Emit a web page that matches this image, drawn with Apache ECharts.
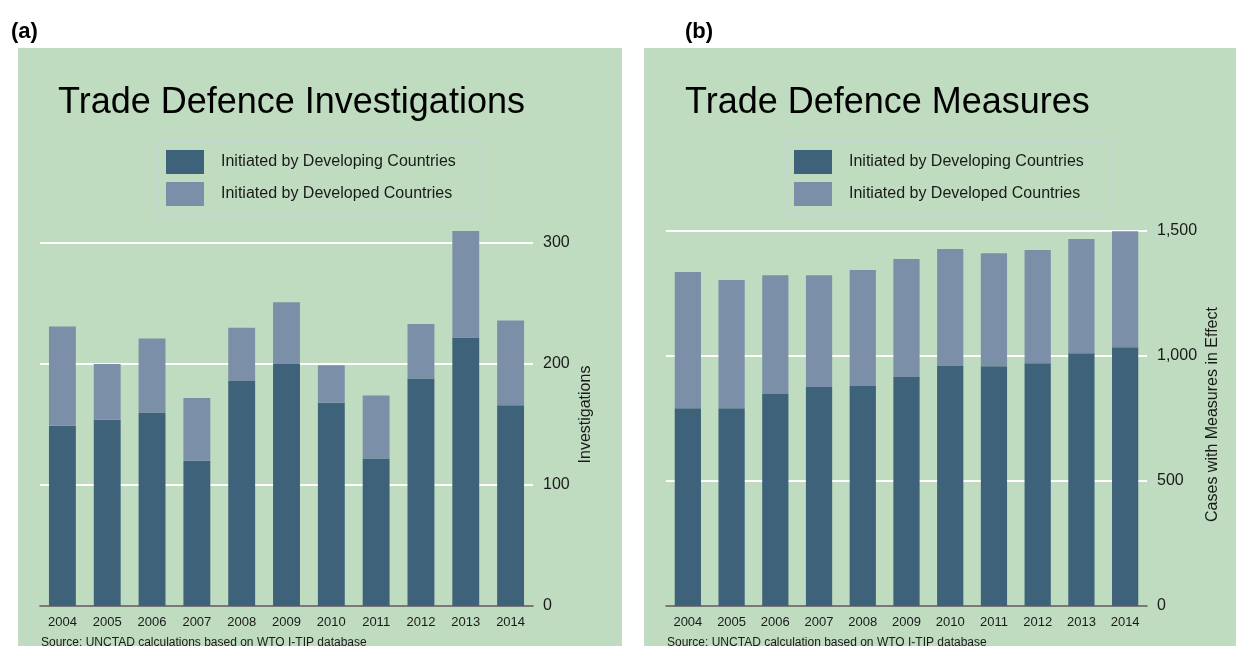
<!DOCTYPE html>
<html>
<head>
<meta charset="utf-8">
<script src="https://cdn.jsdelivr.net/npm/echarts@6/dist/echarts.min.js"></script>
<style>
body { margin: 0; background: #ffffff; }
#wrap { position: relative; width: 1236px; height: 646px; overflow: hidden; }
.panel { position: absolute; top: 48px; height: 598px; background: #bfdcc0; }
#chartDom { position: absolute; left: 0; top: 0; width: 1236px; height: 646px; }
</style>
</head>
<body>
<div id="wrap">
  <div class="panel" style="left:18px;width:604px"></div>
  <div class="panel" style="left:644px;width:592px"></div>
  <div id="chartDom"></div>
</div>
<script>
// years on the x axis (both panels)
const years = ["2004", "2005", "2006", "2007", "2008", "2009", "2010", "2011", "2012", "2013", "2014"];
// (a) investigations
const invDeveloping = [149, 154, 160, 120, 186, 200, 168, 122, 188, 222, 166];
const invDeveloped = [82, 46, 61, 52, 44, 51, 31, 52, 45, 88, 70];
// (b) measures in effect
const measDeveloping = [791, 791, 848, 876, 880, 916, 960, 959, 971, 1011, 1035];
const measDeveloped = [545, 513, 475, 447, 464, 472, 468, 452, 453, 457, 464];

const nameDeveloping = "Initiated by Developing Countries";
const nameDeveloped = "Initiated by Developed Countries";
const font = "'Liberation Sans', Arial, sans-serif";
const darkBar = "#3d6279";
const lightBar = "#7b90a8";

let chart = echarts.init(document.getElementById("chartDom"), null, { renderer: "canvas" });

function legendAt(left) {
  return {
    left: left,
    top: 142,
    orient: "vertical",
    itemWidth: 38,
    itemHeight: 24,
    itemGap: 8,
    padding: [8, 26, 8, 8],
    borderColor: "#c6d3d6",
    borderWidth: 1.5,
    icon: "rect",
    textStyle: { fontFamily: font, fontSize: 16, color: "#1a1a1a", padding: [0, 0, 0, 12] },
    data: [nameDeveloping, nameDeveloped],
  };
}

function yAxisFor(gridIndex, max, interval, name, gap, shift, fmt) {
  return {
    gridIndex: gridIndex,
    type: "value",
    position: "right",
    min: 0,
    max: max,
    interval: interval,
    axisLine: { show: false },
    axisTick: { show: false },
    axisLabel: { fontFamily: font, fontSize: 16, color: "#1a1a1a", margin: 10, formatter: fmt },
    splitLine: { lineStyle: { color: "#ffffff", width: 2 } },
    name: name,
    nameLocation: "middle",
    nameRotate: 90,
    nameGap: gap,
    // padding on the left moves the rotated name upward
    nameTextStyle: { fontFamily: font, fontSize: 16, color: "#1a1a1a", padding: [0, 0, 0, shift] },
  };
}

function xAxisFor(gridIndex) {
  return {
    gridIndex: gridIndex,
    type: "category",
    data: years,
    axisLine: { lineStyle: { color: "#4d4d4d", width: 1.5 } },
    axisTick: { show: false },
    axisLabel: { fontFamily: font, fontSize: 13, color: "#1a1a1a", margin: 10 },
  };
}

function barSeries(name, idx, stack, data, color) {
  return {
    name: name,
    type: "bar",
    stack: stack,
    xAxisIndex: idx,
    yAxisIndex: idx,
    barWidth: "60%",
    clip: false,
    itemStyle: { color: color },
    emphasis: { disabled: true },
    data: data,
  };
}

chart.setOption({
  animation: false,
  textStyle: { fontFamily: font },
  title: [
    { text: "(a)", left: 6, top: 16, textStyle: { fontFamily: font, fontSize: 22, fontWeight: "bold", color: "#000" } },
    { text: "(b)", left: 680, top: 16, textStyle: { fontFamily: font, fontSize: 22, fontWeight: "bold", color: "#000" } },
    { text: "Trade Defence Investigations", left: 53, top: 80, textStyle: { fontFamily: font, fontSize: 36, fontWeight: "normal", color: "#000" } },
    { text: "Trade Defence Measures", left: 680, top: 80, textStyle: { fontFamily: font, fontSize: 36, fontWeight: "normal", color: "#000" } },
    { text: "Source: UNCTAD calculations based on WTO I-TIP database", left: 36, top: 632, textStyle: { fontFamily: font, fontSize: 12, fontWeight: "normal", color: "#1a1a1a" } },
    { text: "Source: UNCTAD calculation based on WTO I-TIP database", left: 662, top: 632, textStyle: { fontFamily: font, fontSize: 12, fontWeight: "normal", color: "#1a1a1a" } },
  ],
  legend: [legendAt(158), legendAt(786)],
  grid: [
    { left: 40, right: 703, top: 243, bottom: 40 },
    { left: 666, right: 89, top: 231, bottom: 40 },
  ],
  xAxis: [xAxisFor(0), xAxisFor(1)],
  yAxis: [
    yAxisFor(0, 300, 100, "Investigations", 45, 20),
    yAxisFor(1, 1500, 500, "Cases with Measures in Effect", 58, 8, (v) => v.toLocaleString("en-US")),
  ],
  series: [
    barSeries(nameDeveloping, 0, "inv", invDeveloping, darkBar),
    barSeries(nameDeveloped, 0, "inv", invDeveloped, lightBar),
    barSeries(nameDeveloping, 1, "meas", measDeveloping, darkBar),
    barSeries(nameDeveloped, 1, "meas", measDeveloped, lightBar),
  ],
});
</script>
</body>
</html>
